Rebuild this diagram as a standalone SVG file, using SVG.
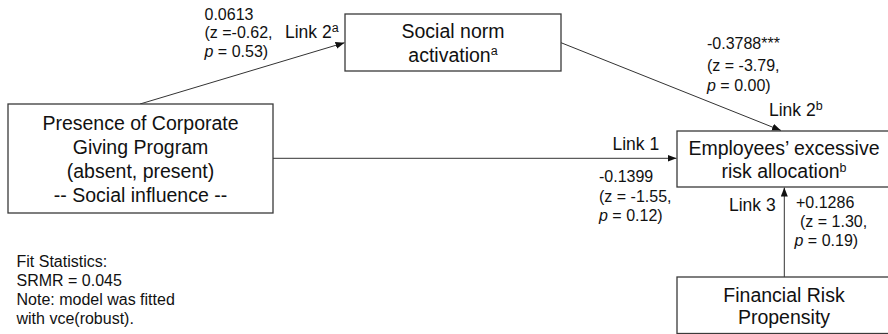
<svg xmlns="http://www.w3.org/2000/svg" width="888" height="334" viewBox="0 0 888 334">
  <style>
    .box { fill: #ffffff; stroke: #3a3a3a; stroke-width: 1.3; }
    .lbl { font-family: "Liberation Sans", Arial, sans-serif; font-size: 19.5px; fill: #111111; text-anchor: middle; }
    .link { font-family: "Liberation Sans", Arial, sans-serif; font-size: 17.5px; fill: #111111; }
    .est { font-family: "Liberation Sans", Arial, sans-serif; font-size: 16px; fill: #111111; }
    .sup { font-size: 12.5px; }
    .edge { fill: none; stroke: #333333; stroke-width: 1; }
  </style>
  <defs>
    <marker id="arrow" markerUnits="userSpaceOnUse" markerWidth="10" markerHeight="8" refX="9" refY="3.5" orient="auto">
      <path d="M0,0 L9,3.5 L0,7 z" fill="#111111"/>
    </marker>
  </defs>
  <rect width="888" height="334" fill="#ffffff"/>

  <!-- connectors -->
  <g id="connectors">
    <line class="edge" x1="140" y1="104" x2="344.5" y2="42.7" marker-end="url(#arrow)"/>
    <line class="edge" x1="561" y1="42.7" x2="781" y2="130.5" marker-end="url(#arrow)"/>
    <line class="edge" x1="273" y1="158.3" x2="676.5" y2="158.3" marker-end="url(#arrow)"/>
    <line class="edge" x1="784.3" y1="277" x2="784.3" y2="187.5" marker-end="url(#arrow)"/>
  </g>

  <!-- predictor -->
  <g id="node-corporate-giving">
    <rect class="box" x="8" y="104" width="265" height="109"/>
    <text class="lbl" x="140.5" y="130">Presence of Corporate</text>
    <text class="lbl" x="140.5" y="154">Giving Program</text>
    <text class="lbl" x="140.5" y="178">(absent, present)</text>
    <text class="lbl" x="140.5" y="202">-- Social influence --</text>
  </g>

  <!-- mediator -->
  <g id="node-social-norm">
    <rect class="box" x="345" y="14" width="216" height="57"/>
    <text class="lbl" x="453" y="38.3">Social norm</text>
    <text class="lbl" x="453" y="61.7">activation<tspan class="sup" dy="-6.5">a</tspan></text>
  </g>

  <!-- outcome -->
  <g id="node-risk-allocation">
    <rect class="box" x="677" y="131" width="220" height="56"/>
    <text class="lbl" x="784" y="155">Employees’ excessive</text>
    <text class="lbl" x="784" y="178">risk allocation<tspan class="sup" dy="-6.5">b</tspan></text>
  </g>

  <!-- control -->
  <g id="node-risk-propensity">
    <rect class="box" x="677" y="277" width="220" height="56.5"/>
    <text class="lbl" x="784" y="301.7">Financial Risk</text>
    <text class="lbl" x="784" y="324">Propensity</text>
  </g>

  <!-- path labels and estimates -->
  <g id="labels">
    <text class="link" x="285" y="38">Link 2<tspan class="sup" dy="-6">a</tspan></text>
    <text class="est" x="204.5" y="19.5">0.0613</text>
    <text class="est" x="204.5" y="38">(z =-0.62,</text>
    <text class="est" x="204.5" y="56.5"><tspan font-style="italic">p</tspan> = 0.53)</text>

    <text class="est" x="707" y="49">-0.3788***</text>
    <text class="est" x="707" y="70.5">(z = -3.79,</text>
    <text class="est" x="707" y="90.5"><tspan font-style="italic">p</tspan> = 0.00)</text>
    <text class="link" x="769" y="116">Link 2<tspan class="sup" dy="-6">b</tspan></text>

    <text class="link" x="612.5" y="150">Link 1</text>
    <text class="est" x="599" y="182">-0.1399</text>
    <text class="est" x="599" y="202">(z = -1.55,</text>
    <text class="est" x="599" y="221"><tspan font-style="italic">p</tspan> = 0.12)</text>

    <text class="link" x="729" y="211">Link 3</text>
    <text class="est" x="796" y="208">+0.1286</text>
    <text class="est" x="800" y="227">(z = 1.30,</text>
    <text class="est" x="794.5" y="246"><tspan font-style="italic">p</tspan> = 0.19)</text>
  </g>

  <!-- model fit note -->
  <g id="fit-note">
    <text class="est" x="16.5" y="266.5">Fit Statistics:</text>
    <text class="est" x="16.5" y="286">SRMR = 0.045</text>
    <text class="est" x="16.5" y="305">Note: model was fitted</text>
    <text class="est" x="16.5" y="324.3">with vce(robust).</text>
  </g>
</svg>
